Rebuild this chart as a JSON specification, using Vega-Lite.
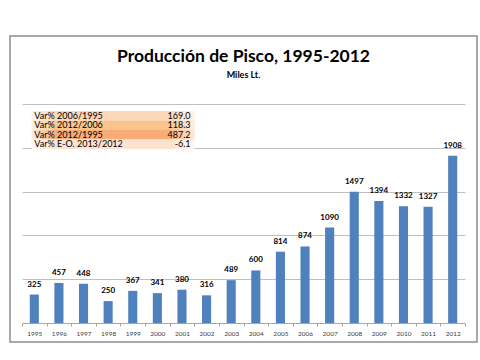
{
  "$schema": "https://vega.github.io/schema/vega-lite/v6.json",
  "width": 467,
  "height": 306,
  "autosize": "none",
  "padding": {"left": 10, "top": 36, "right": 3, "bottom": 18},
  "background": "white",
  "config": {"view": {"stroke": "#8c8c8c", "strokeWidth": 1.5}, "font": "Lato"},
  "title": {
    "text": "Producción de Pisco, 1995-2012",
    "subtitle": "Miles Lt.",
    "font": "Lato", "fontSize": 17.5, "fontWeight": "bold", "color": "black",
    "subtitleFont": "Lato", "subtitleFontSize": 9, "subtitleFontWeight": "bold", "subtitleColor": "black",
    "anchor": "middle", "frame": "group", "offset": -44, "subtitlePadding": 6
  },
  "datasets": {
    "prod": [
      {"year": "1995", "value": 325}, {"year": "1996", "value": 457}, {"year": "1997", "value": 448},
      {"year": "1998", "value": 250}, {"year": "1999", "value": 367}, {"year": "2000", "value": 341},
      {"year": "2001", "value": 380}, {"year": "2002", "value": 316}, {"year": "2003", "value": 489},
      {"year": "2004", "value": 600}, {"year": "2005", "value": 814}, {"year": "2006", "value": 874},
      {"year": "2007", "value": 1090}, {"year": "2008", "value": 1497}, {"year": "2009", "value": 1394},
      {"year": "2010", "value": 1332}, {"year": "2011", "value": 1327}, {"year": "2012", "value": 1908}
    ],
    "tabla": [
      {"label": "Var% 2006/1995", "var": "169.0"},
      {"label": "Var% 2012/2006", "var": "118.3"},
      {"label": "Var% 2012/1995", "var": "487.2"},
      {"label": "Var% E-O. 2013/2012", "var": "-6.1"}
    ]
  },
  "layer": [
    {
      "data": {"name": "prod"},
      "encoding": {
        "x": {
          "field": "year", "type": "ordinal",
          "scale": {"range": [12, 455], "paddingInner": 0, "paddingOuter": 0},
          "axis": {
            "title": null, "labelAngle": 0, "labelFontSize": 6.5, "labelColor": "#404040", "labelFont": "Lato",
            "offset": -19, "domainColor": "#a6a6a6", "tickColor": "#a6a6a6", "tickSize": 3,
            "tickBand": "extent", "labelPadding": 4
          }
        },
        "y": {
          "field": "value", "type": "quantitative",
          "scale": {"domain": [0, 2500], "range": [287, 68], "nice": false},
          "axis": {
            "title": null, "values": [500, 1000, 1500, 2000, 2500], "labels": false, "ticks": false,
            "domain": false, "grid": true, "gridColor": "#bfbfbf", "gridWidth": 1
          }
        }
      },
      "layer": [
        {"mark": {"type": "bar", "color": "#4f81bd", "width": {"band": 0.37}}},
        {"mark": {"type": "text", "dy": -10, "fontSize": 8, "fontWeight": "bold", "color": "black", "font": "Lato"},
         "encoding": {"text": {"field": "value", "type": "quantitative"}}}
      ]
    },
    {
      "data": {"name": "tabla"},
      "encoding": {
        "y": {"field": "label", "type": "ordinal", "sort": null,
              "scale": {"range": [75, 113], "paddingInner": 0, "paddingOuter": 0}, "axis": null}
      },
      "layer": [
        {"mark": {"type": "rect"},
         "encoding": {
           "x": {"datum": "1995", "bandPosition": 0.4}, "x2": {"datum": "2001", "bandPosition": 1},
           "color": {"field": "label", "type": "ordinal", "sort": null, "legend": null,
                     "scale": {"range": ["#fcd6b8", "#fac48c", "#f8ad78", "#fde2cf"]}}
         }},
        {"mark": {"type": "rect", "fill": {"gradient": "linear", "x1": 0, "y1": 0, "x2": 1, "y2": 0,
            "stops": [
              {"offset": 0, "color": "rgba(255,255,255,0.75)"},
              {"offset": 0.15, "color": "rgba(255,255,255,0)"},
              {"offset": 0.85, "color": "rgba(255,255,255,0)"},
              {"offset": 1, "color": "rgba(255,255,255,0.75)"}
            ]}},
         "encoding": {
           "x": {"datum": "1995", "bandPosition": 0.4}, "x2": {"datum": "2001", "bandPosition": 1}
         }},
        {"mark": {"type": "text", "align": "left", "fontSize": 9, "color": "black", "font": "Lato"},
         "encoding": {"x": {"datum": "1995"}, "text": {"field": "label"}}},
        {"mark": {"type": "text", "align": "right", "fontSize": 9, "color": "black", "font": "Lato", "dx": -16},
         "encoding": {"x": {"datum": "2002"}, "text": {"field": "var", "type": "nominal"}}}
      ]
    }
  ],
  "resolve": {"scale": {"y": "independent", "color": "independent"}}
}
